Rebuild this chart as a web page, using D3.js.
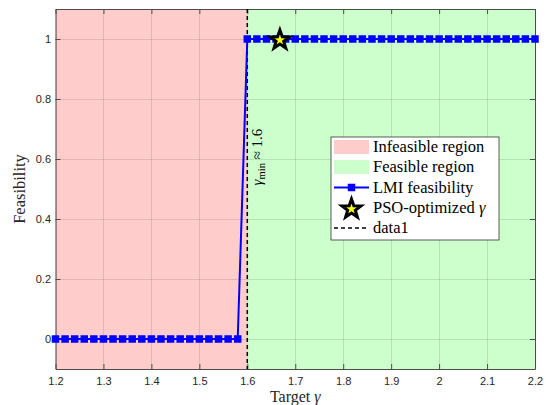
<!DOCTYPE html>
<html><head><meta charset="utf-8">
<script src="https://cdn.jsdelivr.net/npm/d3@7"></script>
<style>
html,body{margin:0;padding:0;background:#fff;}
svg{display:block;}
</style></head>
<body><svg id="chart" width="546" height="405"></svg>
<script>
// ---- data ----
const targetGamma = [1.20,1.22,1.24,1.26,1.28,1.30,1.32,1.34,1.36,1.38,1.40,1.42,1.44,1.46,1.48,1.50,1.52,1.54,1.56,1.58,
  1.60,1.62,1.64,1.66,1.68,1.70,1.72,1.74,1.76,1.78,1.80,1.82,1.84,1.86,1.88,1.90,1.92,1.94,1.96,1.98,
  2.00,2.02,2.04,2.06,2.08,2.10,2.12,2.14,2.16,2.18,2.20];
const feasibility = [0,0,0,0,0,0,0,0,0,0,0,0,0,0,0,0,0,0,0,0,
  1,1,1,1,1,1,1,1,1,1,1,1,1,1,1,1,1,1,1,1,
  1,1,1,1,1,1,1,1,1,1,1];
const gammaMin = 1.6;
const psoGamma = [1.668];
const psoFeas = [1];
const xTicks = [1.2,1.3,1.4,1.5,1.6,1.7,1.8,1.9,2.0,2.1,2.2];
const xTickLabels = ["1.2","1.3","1.4","1.5","1.6","1.7","1.8","1.9","2","2.1","2.2"];
const yTicks = [0,0.2,0.4,0.6,0.8,1];
const yTickLabels = ["0","0.2","0.4","0.6","0.8","1"];
const xDomain = [1.2, 2.2];
const yDomain = [-0.1, 1.1];
const legendLabels = ["Infeasible region","Feasible region","LMI feasibility","PSO-optimized γ","data1"];

// ---- layout ----
const L = 55.5, R = 535, T = 9, B = 369;
const svg = d3.select("#chart");
const x = d3.scaleLinear().domain(xDomain).range([L, R]);
const y = d3.scaleLinear().domain(yDomain).range([B, T]);

const serif = "'Liberation Serif','DejaVu Serif',serif";
const sans = "'Liberation Sans',Arial,sans-serif";

// regions
svg.append("rect").attr("x", x(xDomain[0])).attr("y", T).attr("width", x(gammaMin)-x(xDomain[0])).attr("height", B-T).attr("fill", "#ffcccc");
svg.append("rect").attr("x", x(gammaMin)).attr("y", T).attr("width", x(xDomain[1])-x(gammaMin)).attr("height", B-T).attr("fill", "#ccffcc");

// grid
const grid = svg.append("g").attr("stroke", "rgba(38,38,38,0.13)").attr("stroke-width", 1);
xTicks.forEach(t => grid.append("line").attr("x1", Math.round(x(t))+0.5).attr("x2", Math.round(x(t))+0.5).attr("y1", T).attr("y2", B));
yTicks.forEach(t => grid.append("line").attr("y1", Math.round(y(t))+0.5).attr("y2", Math.round(y(t))+0.5).attr("x1", L).attr("x2", R));

// axes
const axCol = "#4d4d4d";
const xAxisB = d3.axisBottom(x).tickValues(xTicks).tickFormat((d,i)=>xTickLabels[i]).tickSizeInner(-5).tickSizeOuter(0).tickPadding(8);
const xAxisT = d3.axisTop(x).tickValues(xTicks).tickFormat("").tickSizeInner(-5).tickSizeOuter(0);
const yAxisL = d3.axisLeft(y).tickValues(yTicks).tickFormat((d,i)=>yTickLabels[i]).tickSizeInner(-5).tickSizeOuter(0).tickPadding(4.5);
const yAxisR = d3.axisRight(y).tickValues(yTicks).tickFormat("").tickSizeInner(-5).tickSizeOuter(0);
function styleAxis(g){
  g.select(".domain").attr("stroke", axCol);
  g.selectAll(".tick line").attr("stroke", axCol);
  g.selectAll(".tick text").attr("fill", "#262626").style("font-family", sans).style("font-size", "11px");
}
svg.append("g").attr("transform", `translate(0,${B})`).call(xAxisB).call(styleAxis);
svg.append("g").attr("transform", `translate(0,${T})`).call(xAxisT).call(styleAxis);
svg.append("g").attr("transform", `translate(${L},0)`).call(yAxisL).call(styleAxis);
svg.append("g").attr("transform", `translate(${R},0)`).call(yAxisR).call(styleAxis);

// dashed gamma_min line
svg.append("line").attr("x1", x(gammaMin)).attr("x2", x(gammaMin)).attr("y1", T).attr("y2", B)
  .attr("stroke", "#000").attr("stroke-width", 1.5).attr("stroke-dasharray", "4,3");

// LMI line
const pts = targetGamma.map((g,i)=>[g, feasibility[i]]);
svg.append("path").datum(pts)
  .attr("d", d3.line().x(d=>x(d[0])).y(d=>y(d[1])))
  .attr("fill","none").attr("stroke","#0000ff").attr("stroke-width",2);
const ms = 7.5;
svg.append("g").selectAll("rect").data(pts).join("rect")
  .attr("x", d=>x(d[0])-ms/2).attr("y", d=>y(d[1])-ms/2).attr("width", ms).attr("height", ms)
  .attr("fill","#0000ff");

// star
function starPath(cx, cy, Ro, Ri){
  const p = [];
  for(let k=0;k<10;k++){
    const r = k%2===0?Ro:Ri;
    const a = -Math.PI/2 + k*Math.PI/5;
    p.push([cx + r*Math.cos(a), cy + r*Math.sin(a)]);
  }
  return "M" + p.map(q=>q.join(",")).join("L") + "Z";
}
svg.append("g").selectAll("path").data(psoGamma.map((g,i)=>[g, psoFeas[i]])).join("path")
  .attr("d", d=>starPath(x(d[0]), y(d[1])+1, 10, 4))
  .attr("fill","#ffff00").attr("stroke","#000").attr("stroke-width",3).attr("stroke-linejoin","miter");

// annotation
const ann = svg.append("text").attr("transform", `translate(${x(gammaMin)+15},${157}) rotate(-90)`)
  .attr("text-anchor","middle").style("font-family", serif).style("font-size","15px").attr("fill","#000");
ann.append("tspan").style("font-style","italic").text("γ");
ann.append("tspan").attr("dy", 3).style("font-size","10.5px").text("min");
ann.append("tspan").attr("dy", -3).text(" ≈ 1.6");

// axis labels
const xl = svg.append("text").attr("x", (L+R)/2).attr("y", 402).attr("text-anchor","middle")
  .style("font-family", serif).style("font-size","16px").attr("fill","#262626");
xl.append("tspan").text("Target ");
xl.append("tspan").style("font-style","italic").text("γ");
svg.append("text").attr("transform", `translate(25,${(T+B)/2}) rotate(-90)`).attr("text-anchor","middle")
  .style("font-family", serif).style("font-size","16.5px").attr("fill","#262626").text("Feasibility");

// legend
const lg = svg.append("g");
const lx = 331, ly = 137, lw = 168, lh = 103;
lg.append("rect").attr("x", lx).attr("y", ly).attr("width", lw).attr("height", lh).attr("fill","#fff").attr("stroke","#262626").attr("stroke-width",0.75);
const rowY = [147, 167, 187.5, 208, 228];
const sx1 = 334, sx2 = 369, tx = 373;
lg.append("rect").attr("x", sx1).attr("y", rowY[0]-7).attr("width", sx2-sx1).attr("height", 14).attr("fill","#ffcccc");
lg.append("rect").attr("x", sx1).attr("y", rowY[1]-7).attr("width", sx2-sx1).attr("height", 14).attr("fill","#ccffcc");
lg.append("line").attr("x1", sx1).attr("x2", sx2).attr("y1", rowY[2]).attr("y2", rowY[2]).attr("stroke","#0000ff").attr("stroke-width",2);
lg.append("rect").attr("x", (sx1+sx2)/2-ms/2).attr("y", rowY[2]-ms/2).attr("width", ms).attr("height", ms).attr("fill","#0000ff");
lg.append("path").attr("d", starPath((sx1+sx2)/2, rowY[3]+1, 10, 4)).attr("fill","#ffff00").attr("stroke","#000").attr("stroke-width",3);
lg.append("line").attr("x1", sx1).attr("x2", sx2).attr("y1", rowY[4]).attr("y2", rowY[4]).attr("stroke","#000").attr("stroke-width",1.5).attr("stroke-dasharray","4,3");
legendLabels.forEach((t,i)=>{
  const te = lg.append("text").attr("x", tx).attr("y", rowY[i]+5).style("font-family", serif).style("font-size","16.5px").attr("fill","#000");
  if(t.endsWith("γ")){
    te.append("tspan").text(t.slice(0,-1));
    te.append("tspan").style("font-style","italic").text("γ");
  } else te.text(t);
});
</script></body></html>
